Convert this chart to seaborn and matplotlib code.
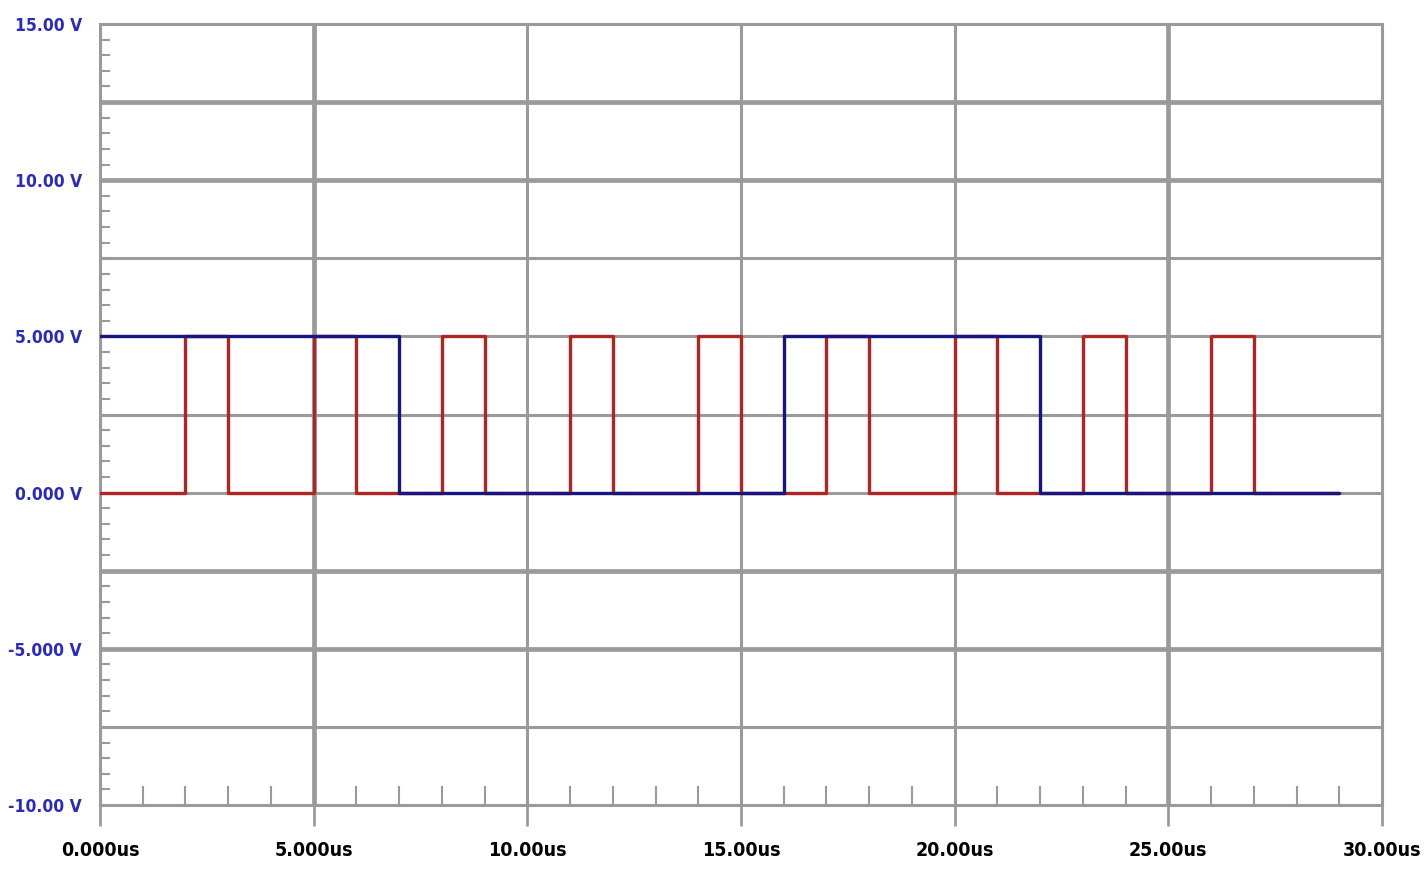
import numpy as np
import matplotlib.pyplot as plt
import seaborn as sns

# Señales digitales: instantes de transición (us) y nivel (V), en escalón
blue_t = [0, 7, 16, 22, 29]
blue_v = [5, 0, 5, 0, 0]
red_t = [0, 2, 3, 5, 6, 8, 9, 11, 12, 14, 15, 17, 18, 20, 21, 23, 24, 26, 27, 29]
red_v = [0, 5, 0, 5, 0, 5, 0, 5, 0, 5, 0, 5, 0, 5, 0, 5, 0, 5, 0, 0]

x_ticks = [0, 5, 10, 15, 20, 25, 30]
x_labels = ["0.000us", "5.000us", "10.00us", "15.00us", "20.00us", "25.00us", "30.00us"]
y_ticks = [-10, -5, 0, 5, 10, 15]
y_labels = ["-10.00 V", "-5.000 V", "0.000 V", "5.000 V", "10.00 V", "15.00 V"]

GRID = "#9a9a9a"
RED = "#b02424"
BLUE = "#16167e"
LABEL_BLUE = "#2a2abf"

sns.set_style("white")
plt.rcParams["font.family"] = ["DejaVu Sans"]
plt.rcParams["font.stretch"] = "condensed"

fig = plt.figure(figsize=(14.26, 8.73), dpi=100)
ax = fig.add_axes([100 / 1426, 1 - 805 / 873, 1282 / 1426, 781 / 873])

# ── Rejilla ────────────────────────────────────────────────────────────
thick_y = {12.5, 10, -2.5, -5}
thick_x = {5, 25}
for v in np.arange(-7.5, 15, 2.5):
    ax.axhline(v, color=GRID, lw=3.4 if v in thick_y else 2.2, zorder=1)
for v in range(5, 30, 5):
    ax.axvline(v, color=GRID, lw=3.4 if v in thick_x else 2.2, zorder=1)

# ── Señales ────────────────────────────────────────────────────────────
sns.lineplot(x=red_t, y=red_v, drawstyle="steps-post", color=RED, lw=2.4,
             ax=ax, zorder=3)
sns.lineplot(x=blue_t, y=blue_v, drawstyle="steps-post", color=BLUE, lw=2.4,
             ax=ax, zorder=4)

ax.set_xlim(0, 30)
ax.set_ylim(-10, 15)

for s in ax.spines.values():
    s.set_color(GRID)
    s.set_linewidth(2.2)
    s.set_visible(True)

ax.set_xticks(x_ticks, x_labels)
ax.set_xticks(np.arange(0, 31, 1), minor=True)
ax.tick_params(axis="x", which="major", direction="out", length=15, width=2,
               color=GRID, pad=11, labelsize=14, labelcolor="black", bottom=True)
ax.tick_params(axis="x", which="minor", direction="in", length=14, width=1.5,
               color=GRID, bottom=True)

ax.set_yticks(y_ticks, y_labels)
ax.set_yticks(np.arange(-10, 15.01, 0.5), minor=True)
ax.tick_params(axis="y", which="major", length=0, pad=13, labelsize=12.5,
               labelcolor=LABEL_BLUE)
ax.tick_params(axis="y", which="minor", direction="in", length=7, width=1.5,
               color=GRID, left=True)

for lbl in ax.get_xticklabels() + ax.get_yticklabels():
    lbl.set_fontweight("bold")
    lbl.set_fontstretch("condensed")

ax.set_xlabel("")
ax.set_ylabel("")

fig.savefig("out.png", dpi=100)
